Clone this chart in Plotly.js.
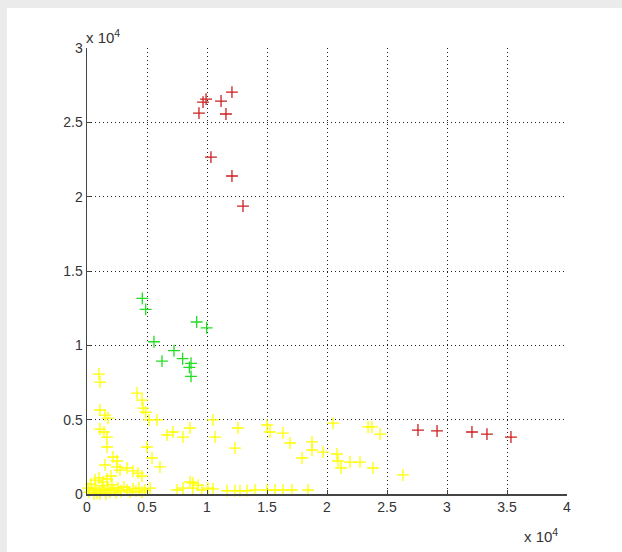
<!DOCTYPE html>
<html>
<head>
<meta charset="utf-8">
<script src="https://cdn.plot.ly/plotly-3.0.1.min.js"></script>
<style>
  html, body { margin: 0; padding: 0; background: #ebebeb; width: 622px; height: 552px; overflow: hidden; }
  #chart { position: absolute; left: 7px; top: 8px; width: 615px; height: 544px; background: #ffffff; }
</style>
</head>
<body>
<div id="chart"></div>
<script>
// values in units of 10^4
const redX = [0.933, 0.967, 0.992, 1.117, 1.158, 1.208, 1.033, 1.208, 1.300, 2.758, 2.917, 3.208, 3.333, 3.533];
const redY = [2.562, 2.636, 2.656, 2.643, 2.556, 2.703, 2.266, 2.139, 1.937, 0.430, 0.424, 0.417, 0.403, 0.383];

const greenX = [0.461, 0.489, 0.914, 0.997, 0.558, 0.725, 0.625, 0.797, 0.867, 0.853, 0.867];
const greenY = [1.316, 1.242, 1.157, 1.118, 1.024, 0.964, 0.894, 0.910, 0.879, 0.852, 0.791];

const yellowX = [
  0.100, 0.108, 0.417, 0.458, 0.467, 0.490, 0.108, 0.150, 0.175, 0.108, 0.142, 0.167, 0.167, 0.217, 0.250,
  0.250, 0.275, 0.333, 0.383, 0.425, 0.458, 0.500, 0.542, 0.608, 0.517, 0.583, 0.667, 0.717, 0.800, 0.858,
  1.050, 1.067, 1.258, 1.233, 1.500, 1.525, 1.633, 1.692, 1.792, 1.875, 1.875, 1.967, 2.050, 2.083, 2.092,
  2.117, 2.192, 2.275, 2.383, 2.342, 2.375, 2.442, 2.633,
  0.525, 0.750, 0.800, 0.858, 0.883, 0.925, 0.958, 1.008, 1.050, 1.167, 1.233, 1.275, 1.333, 1.400, 1.500,
  1.567, 1.633, 1.708, 1.842, 0.883,
  0.017, 0.042, 0.067, 0.083, 0.108, 0.125, 0.142, 0.158, 0.175, 0.192, 0.208, 0.225, 0.242, 0.258, 0.283,
  0.308, 0.333, 0.358, 0.383, 0.408, 0.433, 0.458, 0.483, 0.033, 0.067, 0.100, 0.133, 0.167, 0.200, 0.058,
  0.108, 0.008, 0.150
];
const yellowY = [
  0.807, 0.753, 0.679, 0.632, 0.578, 0.550, 0.565, 0.531, 0.511, 0.437, 0.417, 0.383, 0.316, 0.249, 0.222,
  0.182, 0.161, 0.175, 0.155, 0.141, 0.121, 0.316, 0.242, 0.182, 0.498, 0.498, 0.397, 0.417, 0.383, 0.444,
  0.498, 0.383, 0.444, 0.309, 0.464, 0.417, 0.410, 0.343, 0.242, 0.350, 0.296, 0.282, 0.477, 0.269, 0.222,
  0.175, 0.215, 0.215, 0.175, 0.451, 0.451, 0.403, 0.128,
  0.040, 0.027, 0.040, 0.081, 0.040, 0.060, 0.027, 0.040, 0.034, 0.022, 0.022, 0.022, 0.022, 0.027, 0.027,
  0.027, 0.027, 0.027, 0.027, 0.074,
  0.013, 0.027, 0.040, 0.007, 0.020, 0.054, 0.027, 0.000, 0.040, 0.013, 0.061, 0.027, 0.007, 0.040, 0.020,
  0.047, 0.027, 0.013, 0.034, 0.020, 0.040, 0.013, 0.027, 0.067, 0.094, 0.108, 0.081, 0.101, 0.121, 0.000,
  0.000, 0.040, 0.195
];

const xTickVals = [0, 0.5, 1, 1.5, 2, 2.5, 3, 3.5, 4];
const xTickText = ['0', '0.5', '1', '1.5', '2', '2.5', '3', '3.5', '4'];
const yTickVals = [0, 0.5, 1, 1.5, 2, 2.5, 3];
const yTickText = ['0', '0.5', '1', '1.5', '2', '2.5', '3'];

function series(x, y, color) {
  return {
    x: x, y: y, type: 'scatter', mode: 'markers', cliponaxis: false, hoverinfo: 'skip',
    marker: { symbol: 'cross-thin', size: 8.5, line: { color: color, width: 1.3 }, color: color }
  };
}

const data = [
  series(yellowX, yellowY, '#ffff00'),
  series(greenX, greenY, '#22dd22'),
  series(redX, redY, '#cc1f1f')
];

const fontFam = 'Liberation Sans Narrow, Liberation Sans, Arial, sans-serif';

const axisCommon = {
  showgrid: true, gridcolor: '#222222', griddash: '1px,3px', gridwidth: 1,
  zeroline: false, showline: true, linecolor: '#444444', linewidth: 1.5,
  ticks: 'inside', ticklen: 4, tickcolor: '#444444', tickwidth: 1,
  tickmode: 'array', mirror: false,
  tickfont: { family: fontFam, size: 14, color: '#333333' }
};

const layout = {
  width: 615, height: 544,
  margin: { l: 80, r: 55, t: 40, b: 58 },
  paper_bgcolor: '#ffffff', plot_bgcolor: '#ffffff',
  showlegend: false,
  xaxis: Object.assign({}, axisCommon, { range: [0, 4], tickvals: xTickVals, ticktext: xTickText }),
  yaxis: Object.assign({}, axisCommon, { range: [0, 3], tickvals: yTickVals, ticktext: yTickText }),
  annotations: [
    { xref: 'paper', yref: 'paper', x: 0, y: 1, xanchor: 'left', yanchor: 'bottom', yshift: 0, xshift: -3, showarrow: false,
      text: 'x 10<sup>4</sup>', font: { family: fontFam, size: 15, color: '#333333' } },
    { xref: 'paper', yref: 'paper', x: 0.985, y: 0, xanchor: 'right', yanchor: 'top', yshift: -30, showarrow: false,
      text: 'x 10<sup>4</sup>', font: { family: fontFam, size: 15, color: '#333333' } }
  ]
};

Plotly.newPlot('chart', data, layout, { staticPlot: true, displayModeBar: false });
</script>
</body>
</html>
